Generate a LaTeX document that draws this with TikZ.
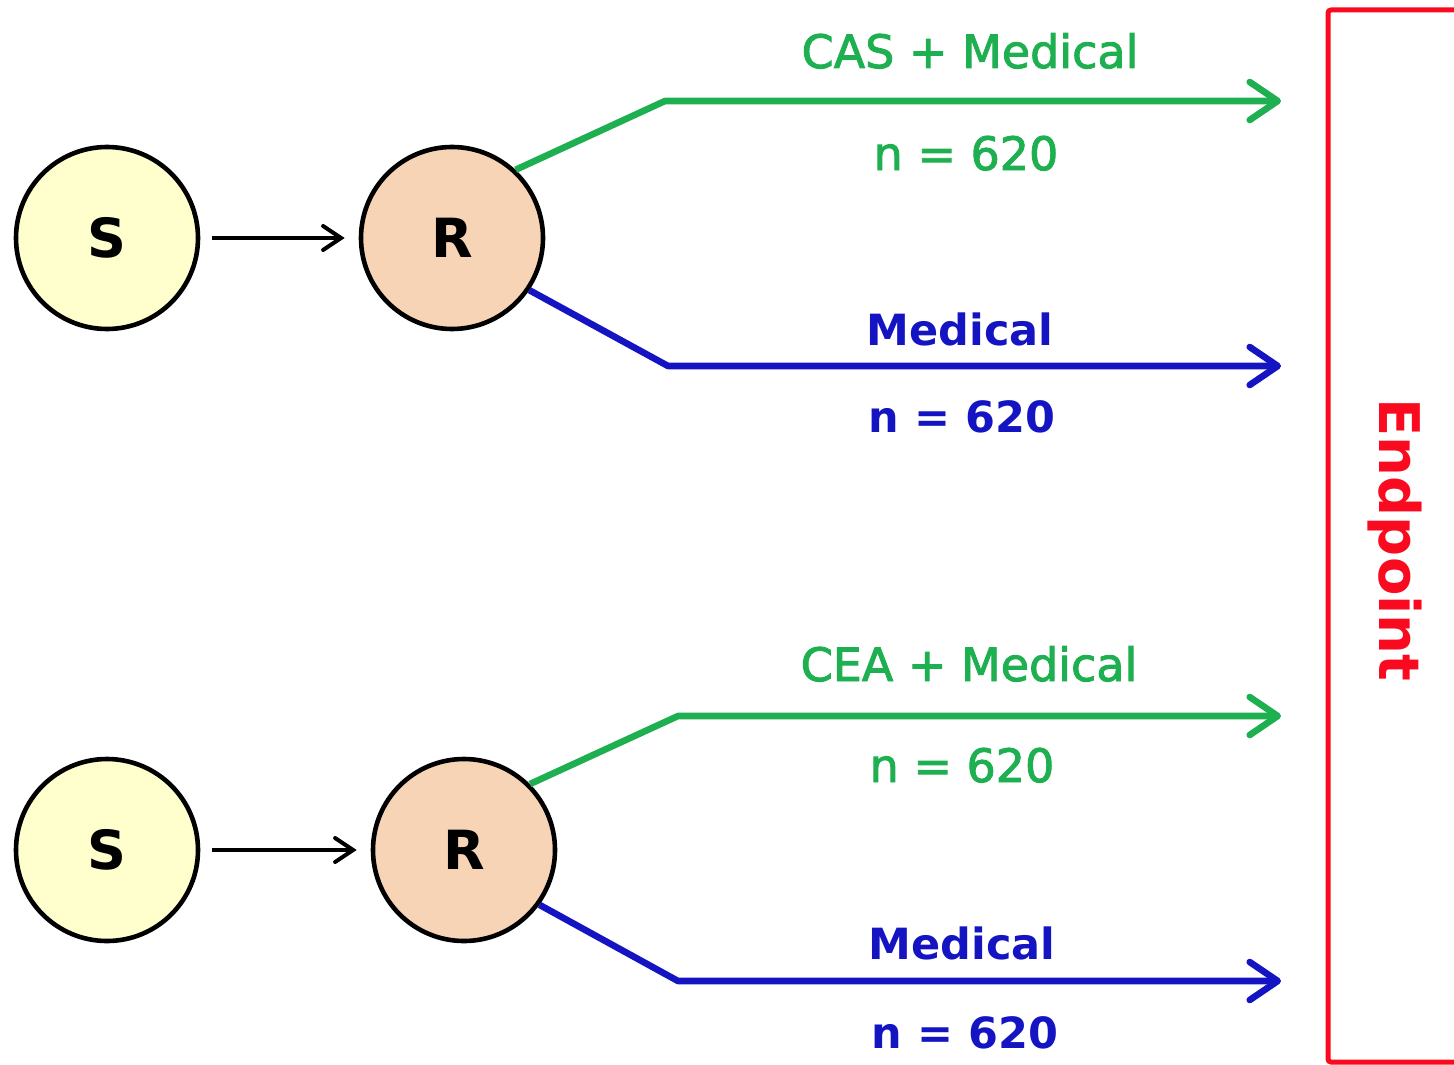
\documentclass[tikz,border=0pt]{standalone}
\usepackage{fontspec}
\setmainfont{DejaVu Sans}
\newfontfamily\semifont[FakeBold=2]{DejaVu Sans}
\usetikzlibrary{arrows.meta,positioning}

\definecolor{armgreen}{RGB}{30,176,80}
\definecolor{armblue}{RGB}{20,20,195}
\definecolor{endred}{RGB}{250,10,30}
\definecolor{sfill}{RGB}{255,255,206}
\definecolor{rfill}{RGB}{248,212,182}

\begin{document}
\begin{tikzpicture}
    [x=0.5pt, y=-0.5pt,
    circ/.style={circle, draw, line width=2.3pt, minimum size=91pt,
      inner sep=0pt, font=\fontsize{27}{30}\selectfont\bfseries},
    screen/.style={circ, fill=sfill},
    rand/.style={circ, fill=rfill},
    step arrow/.style={line width=2pt, shorten <=6pt, shorten >=7pt,
      -{Straight Barb[length=9pt,width=12pt,line cap=round]}},
    arm/.style={line width=3.3pt, line join=round,
      -{Straight Barb[length=14pt,width=19pt,line cap=round,line join=round]}},
    green arm/.style={arm, armgreen},
    blue arm/.style={arm, armblue},
    glabel/.style={anchor=base, text=armgreen, inner sep=0pt,
      font=\fontsize{23}{26}\selectfont\semifont},
    blabel/.style={anchor=base, text=armblue, inner sep=0pt,
      font=\fontsize{21.5}{26}\selectfont\bfseries}]

  \useasboundingbox (0,0) rectangle (1454,1064);

  % upper trial
  \node[screen] (S1) at (107,238) {S};
  \node[rand] (R1) at (452,238) {R};
  \coordinate (g1) at (665,101);
  \coordinate (ge1) at (1281,101);
  \coordinate (b1) at (668,366);
  \coordinate (be1) at (1281,366);

  \draw[step arrow] (S1) -- (R1);
  \draw[green arm] (R1.47) -- (g1) -- (ge1);
  \draw[blue arm] (R1.-34) -- (b1) -- (be1);

  \node[glabel] (cas) at (970,68) {CAS + Medical};
  \node[glabel] (n1) at (966,170) {n = 620};
  \node[blabel] (med1) at (960,345) {Medical};
  \node[blabel] (n2) at (962,432) {n = 620};

  % lower trial
  \node[screen] (S2) at (107,850) {S};
  \node[rand] (R2) at (464,850) {R};
  \coordinate (g2) at (678,716);
  \coordinate (ge2) at (1281,716);
  \coordinate (b2) at (678,981);
  \coordinate (be2) at (1281,981);

  \draw[step arrow] (S2) -- (R2);
  \draw[green arm] (R2.45) -- (g2) -- (ge2);
  \draw[blue arm] (R2.-36) -- (b2) -- (be2);

  \node[glabel] (cea) at (969,681) {CEA + Medical};
  \node[glabel] (n3) at (962,782) {n = 620};
  \node[blabel] (med2) at (962,959) {Medical};
  \node[blabel] (n4) at (965,1048) {n = 620};

  % endpoint box
  \draw[endred, line width=2.5pt, rounded corners=1.5pt] (1328,10) rectangle (1480,1062);
  \node[rotate=-90, text=endred, font=\fontsize{28}{30}\selectfont\bfseries] (ep) at (1395,540) {Endpoint};

\end{tikzpicture}
\end{document}
